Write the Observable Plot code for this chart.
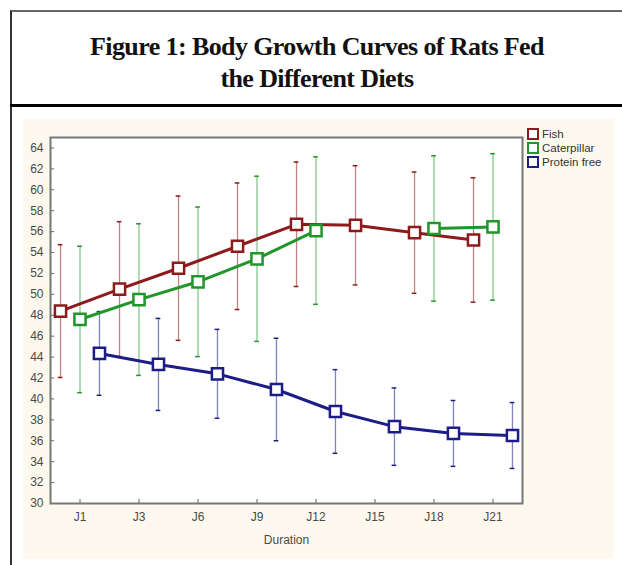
<!DOCTYPE html>
<html><head><meta charset="utf-8">
<script src="https://cdn.jsdelivr.net/npm/d3@7"></script>
<script src="https://cdn.jsdelivr.net/npm/@observablehq/plot@0.6"></script>
<style>
body{margin:0;background:#fff;}
#wrap{position:relative;width:622px;height:565px;overflow:hidden;background:#fff;}
#box{position:absolute;left:10px;top:10px;width:640px;height:600px;border-left:2px solid #333;border-top:2px solid #666;}
#title{position:absolute;left:12px;width:610px;top:31px;text-align:center;font:bold 26px/32px "Liberation Serif","Times New Roman",serif;color:#111;letter-spacing:-0.6px;}
#sep{position:absolute;left:10px;top:104px;width:612px;height:3px;background:#000;}
#panel{position:absolute;left:23px;top:119px;width:591px;height:440px;background:#fdf9ee;}
#panel svg{position:absolute;left:0;top:0;}
#legend{position:absolute;left:504px;top:8px;font:11.5px/14px "Liberation Sans",Arial,sans-serif;color:#333;}
.li{display:flex;align-items:center;height:14px;}
.sw{width:8px;height:8px;border:2px solid;background:#fff;margin-right:3px;}
</style></head>
<body>
<div id="wrap">
  <div id="box"></div>
  <div id="title">Figure 1: Body Growth Curves of Rats Fed<br>the Different Diets</div>
  <div id="sep"></div>
  <div id="panel"><div id="legend"></div></div>
</div>
<script>
const durations = ["J1","J3","J6","J9","J12","J15","J18","J21"];
const series = ["Fish","Caterpillar","Protein free"];
const colors = ["#8e1b1b","#21962a","#1d1d88"];
const fishMean = [48.4,50.5,52.5,54.6,56.7,56.6,55.9,55.2];
const fishErr  = [6.35,6.45,6.9,6.05,5.95,5.7,5.8,5.95];
const catMean  = [47.6,49.5,51.2,53.4,56.1,null,56.3,56.45];
const catErr   = [7.0,7.25,7.15,7.9,7.05,null,6.95,7.0];
const pfMean   = [44.35,43.3,42.4,40.9,38.8,37.35,36.7,36.5];
const pfErr    = [4.0,4.4,4.25,4.9,4.0,3.7,3.15,3.15];
const yTicks = [30,32,34,36,38,40,42,44,46,48,50,52,54,56,58,60,62,64];

const means = [fishMean, catMean, pfMean];
const errs = [fishErr, catErr, pfErr];
const offsets = [-0.33, 0, 0.33];
const rows = [];
series.forEach((s, k) => {
  durations.forEach((d, i) => {
    const m = means[k][i];
    const e = errs[k][i];
    rows.push({series: s, x: i + offsets[k], mean: m,
      lo: m == null ? null : m - e, hi: m == null ? null : m + e});
  });
});
const valid = rows.filter(r => r.mean != null);
const caps = valid.flatMap(r => [{...r, y: r.lo}, {...r, y: r.hi}]);
const xTicks = durations.map((d, i) => i);

const chart = Plot.plot({
  width: 591, height: 440,
  marginLeft: 27, marginRight: 92, marginTop: 18, marginBottom: 56,
  style: {background: "transparent", fontFamily: "'Liberation Sans', Arial, sans-serif", fontSize: "12px", color: "#4a4a4a"},
  x: {domain: [-0.5, 7.5]},
  y: {domain: [30, 65]},
  color: {domain: series, range: colors},
  marks: [
    Plot.frame({fill: "white"}),
    Plot.axisX({ticks: xTicks, tickFormat: i => durations[i], tickSize: 0, tickPadding: 9,
      fontSize: 12, label: "Duration", labelAnchor: "center", labelOffset: 40, labelArrow: "none", fill: "#4a4a4a"}),
    Plot.axisX({ticks: xTicks, text: null, tickSize: 4, dy: -4, label: null, stroke: "#666"}),
    Plot.axisY({ticks: yTicks, tickSize: 0, tickPadding: 7, fontSize: 12, label: null, fill: "#4a4a4a"}),
    Plot.axisY({ticks: yTicks, text: null, tickSize: 4, dx: 4, label: null, stroke: "#666"}),
    Plot.ruleX(valid, {x: "x", y1: "lo", y2: "hi", stroke: "series", strokeOpacity: 0.55, strokeWidth: 1.3}),
    Plot.ruleY(caps, {y: "y", x1: d => d.x - 0.04, x2: d => d.x + 0.04, stroke: "series", strokeWidth: 1.5}),
    Plot.line(rows, {x: "x", y: "mean", z: "series", stroke: "series", strokeWidth: 3}),
    Plot.dot(valid, {x: "x", y: "mean", symbol: "square", r: 6.3, fill: "white", stroke: "series", strokeWidth: 2.5}),
    Plot.frame({stroke: "#777", strokeWidth: 2})
  ]
});
document.getElementById("panel").appendChild(chart);

const leg = document.getElementById("legend");
series.forEach((s, k) => {
  const li = document.createElement("div");
  li.className = "li";
  li.innerHTML = `<span class="sw" style="border-color:${colors[k]}"></span><span>${s}</span>`;
  leg.appendChild(li);
});
</script>
</body></html>
